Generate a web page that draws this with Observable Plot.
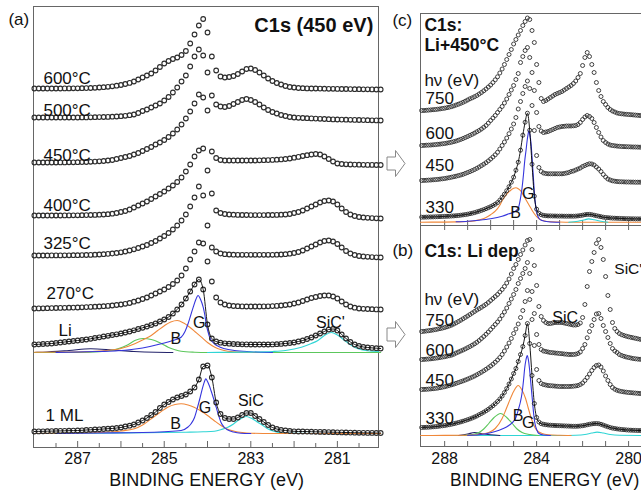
<!DOCTYPE html>
<html><head><meta charset="utf-8">
<script src="https://cdn.jsdelivr.net/npm/d3@7"></script>
<script src="https://cdn.jsdelivr.net/npm/@observablehq/plot@0.6"></script>
<style>
body{margin:0;background:#fff;}
#fig{position:relative;width:641px;height:490px;overflow:hidden;background:#fff;}
</style></head><body><div id="fig"></div>
<script>
// ---------------- DATA ----------------
// Panel (a): binding-energy grid (eV)
const energiesA = [288.0,287.9,287.8,287.7,287.6,287.5,287.4,287.3,287.2,287.1,
287.0,286.9,286.8,286.7,286.6,286.5,286.4,286.3,286.2,286.1,
286.0,285.9,285.8,285.7,285.6,285.5,285.4,285.3,285.2,285.1,
285.0,284.9,284.8,284.7,284.6,284.5,284.4,284.3,284.2,284.1,
284.0,283.9,283.8,283.7,283.6,283.5,283.4,283.3,283.2,283.1,
283.0,282.9,282.8,282.7,282.6,282.5,282.4,282.3,282.2,282.1,
282.0,281.9,281.8,281.7,281.6,281.5,281.4,281.3,281.2,281.1,
281.0,280.9,280.8,280.7,280.6,280.5,280.4,280.3,280.2,280.1,
280.0];
const labelsA = ["600°C","500°C","450°C","400°C","325°C","270°C","Li","1 ML"];
const offsetsA = [359,330,285,232,192,139,103,16];
const spec600 = [0,0,0,0,0,0,0,0.1,0.1,0.2, 0.2,0.3,0.4,0.5,0.7,1,1.3,1.7,2.2,2.8, 3.5,4.5,5.6,7,9,11,13,15,18,21.5,
 25,27.5,29.5,31,33.5,37.5,45,54,63,69.5, 56,32,18,12,11,11.5,12.5,14.5,17,19.5, 20,18.5,16,13,10,7.5,5.5,4,2.5,1.5,
 1,0.5,0.3,0.1,0,0,-0.1,-0.2,-0.3,-0.3, -0.4,-0.5,-0.5,-0.6,-0.7,-0.7,-0.8,-0.8,-0.9,-1, -1];
const spec500 = [0,0,0,0,0,0,0,0,0,0, 0,0.1,0.1,0.2,0.3,0.4,0.5,0.6,0.8,1, 1.3,1.7,2.3,3,4.5,6.5,8,10,12,14,
 17,20.5,25,30,36,42,51,61,68,62, 45,22,13,11,10.5,11.5,13.5,15.5,17.5,18.5, 17.5,15.5,13,10,7.5,5.5,4,2.5,1.5,0.5,
 0,-0.3,-0.5,-0.7,-0.9,-1.1,-1.3,-1.5,-1.7,-1.9, -2,-2.1,-2.2,-2.3,-2.4,-2.5,-2.6,-2.7,-2.8,-2.9, -3];
const spec450 = [0,0,0,0,0,0,0.1,0.1,0.2,0.2, 0.3,0.4,0.5,0.7,0.9,1.2,1.5,2,2.5,3.5, 4.5,5.5,6.5,8,9.5,11.5,13.5,15.5,18,20,
 22.5,25.5,29,33,38,44,51,59,68,65, 52,11,4.5,2.5,2,2,2,2,2,2, 2,2,2.2,2.3,2.4,2.6,2.8,3.1,3.5,4,
 4.8,5.6,6.5,7.3,8,8.5,8,6,3.5,1, -1,-1.5,-1.8,-2,-2.1,-2.2,-2.3,-2.4,-2.4,-2.5, -2.5];
const spec400 = [0,0,0,0,0,0,0,0.1,0.1,0.2, 0.2,0.3,0.4,0.5,0.6,0.8,1,1.3,1.8,2.5, 3.5,4.5,6,8,10,12,14,16.5,19,21.5,
 24,27,30,33.5,38,44,51,59,65,67, 45,22,5,2.5,1.5,1,0.8,0.6,0.5,0.5, 0.4,0.4,0.4,0.4,0.5,0.5,0.6,0.8,1,1.5,
 2.5,3.5,5,7,9,11,13,14.5,15,14, 11,7,3.5,1,-0.5,-1.5,-2,-2.3,-2.6,-2.8, -3];
const spec325 = [0,0,0,0,0.1,0.1,0.1,0.2,0.2,0.3, 0.3,0.4,0.5,0.6,0.8,1,1.3,1.6,2,2.5, 3.2,4,5,6.2,7.5,9,10.5,12.5,14.5,17,
 19.5,22.5,26,30,35,41,49,58,69,60, 30,8,4,2,1.3,1,0.8,0.7,0.7,0.7, 0.7,0.7,0.7,0.7,0.7,0.7,0.8,1,1.3,1.8,
 2.5,3.5,5,7,9,11,13,14.5,15,14, 11.5,8,4.5,2,0.5,-0.5,-1,-1.3,-1.6,-1.8, -2];
const spec270 = [0,0.1,0.2,0.3,0.4,0.5,0.6,0.7,0.8,0.9, 1,1.2,1.4,1.6,1.8,2,2.3,2.6,3,3.5, 4,4.7,5.5,6.8,8,9.5,11,13,15,17,
 19,21.5,24.5,28,33,40,49,57,66,65, 47,27,11,6,4,3,2.5,2.3,2.1,2, 2,2,2,2.1,2.2,2.4,2.6,3,3.5,4,
 5,6,7.5,9,10.5,11.5,12.5,13,13,12, 10,7,4,2,0.8,0,-0.3,-0.5,-0.7,-0.9, -1];
const specLi = [0,0.2,0.5,0.7,1,1.5,2,2.5,3,3.5, 4,4.5,5,5.7,6.5,7.2,8,8.7,9.5,10.2, 11,12,13,14.2,15.5,16.7,18,19.5,21,23,
 25,27.5,31,35,40,46,53,60,65,55, 20,6,3,1.8,1.2,0.8,0.5,0.3,0.2,0.1, 0,0,0,0,0,0.1,0.3,0.6,1,1.5,
 2,3,4,5.5,7,9,11,13,15,15.5, 14,10,6,2.5,0,-1.5,-2.5,-3,-3.4,-3.7, -4];
const spec1ML = [0,0.1,0.2,0.3,0.4,0.5,0.6,0.7,0.8,0.9, 1,1.2,1.5,1.7,2,2.2,2.5,2.8,3,3.5, 4,5,5.8,7,9,11,13.5,16.5,19.5,23.5,
 27,29.5,32,34,35.5,37,40,44,52,65, 66,54,29,17.5,13.5,12.5,12.5,14,16.5,18.5, 18.5,15.5,12.5,9.5,6.5,4,2.5,1.5,1,0.5,
 0.2,0,0,-0.1,-0.2,-0.3,-0.4,-0.5,-0.6,-0.7, -0.8,-0.9,-1,-1.1,-1.2,-1.3,-1.3,-1.4,-1.4,-1.5, -1.5];
// fit components, [eV, intensity] (Li and 1 ML)
const compOffsetLi = 95, compOffset1ML = 14;
const compLiNavy = [[288,0],[287.8,0.3],[287.2,2],[286.7,3.7],[286.2,2.5],[285.7,1],[285.2,0.2],[284.8,0]];
const compLiGreen = [[288,0],[287.5,0],[287,0.1],[286.5,0.8],[286.07,3.7],[285.85,7.5],[285.68,12],[285.49,14],[285.3,13],[285.22,12],[285.05,8.5],[284.91,5.3],[284.75,2.8],[284.61,1.3],[284.3,0.3],[284,0],[282,0],[280,0]];
const compLiOrange = [[288,0.2],[287,0.5],[286.5,1.5],[286,4],[285.68,8.7],[285.5,12.5],[285.3,17],[285.15,22],[284.99,27],[284.85,30.5],[284.7,32],[284.55,29.5],[284.41,25.3],[284.28,20.5],[284.14,15.3],[284,10],[283.83,5.3],[283.7,3],[283.53,1.3],[283.2,0.3],[282.8,0]];
const compLiBlue = [[287.5,0],[287,0.5],[286.5,1],[286.07,1.7],[285.5,4.5],[285.07,8.7],[284.8,12],[284.61,15.3],[284.52,21],[284.45,28.7],[284.39,37],[284.33,45.3],[284.27,53],[284.22,57],[284.16,53],[284.1,45.3],[284.06,37],[284.03,28.7],[283.99,21],[283.95,15.3],[283.84,8.7],[283.72,5.5],[283.6,3.7],[283.38,2],[283,0.8],[282.5,0]];
const compLiCyan = [[284,0],[283.5,0.2],[283,0.4],[282.5,1],[282.2,2],[281.83,5.3],[281.6,9],[281.45,12],[281.3,17],[281.14,20],[281.0,17.5],[280.83,12],[280.67,7],[280.52,3.7],[280.3,1.8],[280.05,1]];
const comp1MLOrange = [[288,0],[287.5,0.2],[287,0.5],[286.5,1],[286,2.5],[285.69,4.7],[285.5,8.5],[285.3,14.7],[285.1,21],[284.92,26.3],[284.75,29],[284.61,29.7],[284.45,28.5],[284.31,26.3],[284.15,22.5],[284.0,18],[283.85,13],[283.69,8],[283.55,4.5],[283.38,2.3],[283.2,1],[283,0.3],[282.5,0],[280,0]];
const comp1MLBlue = [[287.5,0],[286.5,0.5],[285.5,1],[285,1.8],[284.61,3],[284.45,6.5],[284.38,9.7],[284.3,16],[284.23,26.3],[284.17,36],[284.11,46.3],[284.07,52],[284.04,54.7],[284.0,52],[283.96,48],[283.92,43],[283.86,35],[283.8,26.3],[283.74,17.5],[283.69,11.3],[283.62,6.5],[283.54,3.7],[283.4,1.5],[283.23,0.3],[283,0]];
const comp1MLCyan = [[288,0],[287,0.3],[286,0.6],[285,1],[284.5,1.3],[284.1,1.7],[283.84,2.3],[283.68,4],[283.53,6.3],[283.4,9.5],[283.3,13],[283.2,15.5],[283.11,17],[283.0,15.5],[282.92,13.5],[282.84,11.3],[282.72,8],[282.61,4.7],[282.45,2],[282.3,0.7],[282,0.2],[281.5,0],[280,0]];
const tickMarksA = [287.5,287,286.5,286,285.5,285,284.5,284,283.5,283,282.5,282,281.5,281,280.5];
const tickLabelsA = [287,285,283,281];

// Panels (b) and (c): binding-energy grid (eV)
const energiesBC = [289.0,288.9,288.8,288.7,288.6,288.5,288.4,288.3,288.2,288.1,
288.0,287.9,287.8,287.7,287.6,287.5,287.4,287.3,287.2,287.1,
287.0,286.9,286.8,286.7,286.6,286.5,286.4,286.3,286.2,286.1,
286.0,285.9,285.8,285.7,285.6,285.5,285.4,285.3,285.2,285.1,
285.0,284.9,284.8,284.7,284.6,284.5,284.4,284.3,284.2,284.1,
284.0,283.9,283.8,283.7,283.6,283.5,283.4,283.3,283.2,283.1,
283.0,282.9,282.8,282.7,282.6,282.5,282.4,282.3,282.2,282.1,
282.0,281.9,281.8,281.7,281.6,281.5,281.4,281.3,281.2,281.1,
281.0,280.9,280.8,280.7,280.6,280.5,280.4,280.3,280.2,280.1,
280.0,279.9,279.8,279.7,279.6,279.5,279.4];
const photonEnergies = ["750","600","450","330"];
const offsetsC = [115,80,45,8.3];
const specC750 = [0,0,0.2,0.4,0.6,0.8,1,1.3,1.6,2, 2.3,2.8,3.3,3.9,4.6,5.5,6.3,7.2,8.2,9.3, 10.5,11.7,12.7,13.8,15,16.5,18,19.7,21.5,23.5,
 25.5,28,30.7,33.7,37.5,41.5,46,51,56,61, 66.5,71,75.5,80,85,89,92.5,91,80,68, 46,28,12,9,10,11.5,13,14.5,16,17,
 18,19,20.5,22,23.5,25,27,29.5,33,37, 45,53,58,54,46,38,28,20,14,9, 6,3,1,-0.5,-1.5,-2.5,-3,-3.3,-3.6,-3.8, -4,-4.2,-4.4,-4.6,-4.8,-5,-5];
const specC600 = [0,0.1,0.3,0.4,0.5,0.7,0.9,1.2,1.4,1.7, 2,2.4,2.8,3.3,3.9,4.5,5.3,6.1,7,8, 9,10.1,11.2,12.4,13.7,15,16.5,18.2,20,22.4,
 25,27.5,30,33,36,39,42.5,46.5,51,55.5, 60,66,72,83,89,95,98,88,73,55, 33,19,14.5,13,13.5,14,15,16,17,18,
 18.5,19,19.2,19.5,19.5,19.5,19.7,20,21,23, 26,28.5,30,29,27,23,18,13,8.5,5, 3,1.5,0.5,0,-0.3,-0.6,-0.8,-1,-1.1,-1.2, -1.3,-1.4,-1.5,-1.5,-1.6,-1.7,-1.7];
const specC450 = [0,0.1,0.2,0.4,0.5,0.7,0.9,1.1,1.4,1.7, 2,2.4,2.8,3.3,3.8,4.3,4.9,5.5,6.2,7.1, 8,8.9,9.9,11,12.2,13.5,14.9,16.3,17.8,19.6,
 21.5,23.5,25.7,28.2,31.5,35,38.5,42.5,46.8,51.5, 56.5,63,71.5,79,87,94,99.5,92,75,50, 25,13,9,7.5,7,6.7,6.7,6.7,6.7,6.7,
 6.7,6.7,7,7.5,8,9,9.5,10.5,11.5,12.5, 14,15,16,16.7,16.5,15.5,13.5,11.5,9,6, 3.5,1.5,0.5,-0.3,-0.7,-1,-1.2,-1.3,-1.4,-1.5, -1.5,-1.6,-1.6,-1.7,-1.7,-1.7,-1.7];
const specC330 = [0,0,0.1,0.2,0.25,0.3,0.4,0.5,0.6,0.7, 0.8,0.9,1,1.2,1.3,1.5,1.7,2,2.3,2.6, 3,3.5,4,4.6,5.3,6,6.8,7.6,8.5,9.5,
 10.5,11.7,13,14.6,17,20,23,26.5,30.5,35, 40,47,55,67,82,95,104,87,53,21, 8,4,2.5,1.8,1.5,1.3,1.3,1.2,1.2,1.1,
 1.1,1.1,1,1,1,1,1,1.1,1.3,1.6, 2,2.5,2.8,2.8,2.5,2,1.5,1,0.5,0, -0.3,-0.5,-0.7,-0.9,-1,-1.1,-1.2,-1.3,-1.4,-1.5, -1.5,-1.6,-1.6,-1.7,-1.7,-1.7,-1.7];
const compOffsetC = 3.3;
const compC330Orange = [[289.05,0],[288,0.1],[287.5,0.3],[287,0.7],[286.8,1],[286.6,1.8],[286.4,3],[286.2,4.8],[286,7.5],[285.8,11],[285.6,17],[285.5,21.5],[285.4,25],[285.3,28],[285.2,30.5],[285.1,32.5],[285,34],[284.9,34.4],[284.8,33.5],[284.7,31.5],[284.6,28],[284.5,24],[284.4,20],[284.3,16],[284.2,12],[284.1,8.5],[284,5.5],[283.9,3.5],[283.8,2.3],[283.7,1.5],[283.6,1],[283.5,0.7],[283,0.2],[282.5,0],[279,0]];
const compC330Blue = [[287.5,0.5],[287,1],[286.5,2],[286,3.5],[285.5,6],[285.2,8.4],[285,10],[284.8,14],[284.7,24],[284.63,35],[284.57,48],[284.515,61.7],[284.46,72],[284.41,82],[284.37,88],[284.34,91.7],[284.3,88],[284.24,78],[284.17,55],[284.09,28],[284.03,14],[283.98,8.4],[283.9,4],[283.76,1.7],[283.5,0.5],[283,0]];
const compC330Cyan = [[282.6,0],[282.2,1],[281.9,2.5],[281.74,3.3],[281.5,2.5],[281.2,1],[280.9,0]];

const offsetsB = [115,87,57,19];
const specB750 = [0,0.2,0.5,0.8,1.1,1.5,1.9,2.4,2.9,3.4, 4,4.7,5.5,6.4,7.5,8.7,10,11.3,12.7,14.1, 15.5,17,18.5,20,21.5,22.8,24.2,25.7,27.2,29,
 31,33,35,37,39.5,42,45,48.5,52.5,57.5, 63,67,72,77,81.5,86.5,91,92,82,66, 46,25,15,11,9,8,8,8.5,9,9,
 9,9,8.5,8,7.5,7,6.5,6.5,7,8.5, 14,27,45,60,70,79,88,92,84,72, 55,36,22,9,3,0,-2,-3.2,-4,-4.7, -5.3,-5.8,-6.3,-6.8,-7.3,-7.8,-8.2];
const specB600 = [0,0.1,0.3,0.5,0.7,1,1.3,1.6,2,2.4, 2.8,3.3,3.8,4.4,5.3,6.5,7.5,8.5,9.5,10.6, 11.8,13,14.3,15.7,17.2,19,21,23,25.2,27.5,
 30,32.5,35,37.5,40.5,44,47.5,51.5,56,60.5, 65,70,76,81,86,91,97,86,68,46, 25,15,10,8.5,8,7.5,7,6.8,6.5,6.3,
 6,5.8,5.5,5.3,5,5,5,5.3,6,7.5, 11,15,21.7,28,34,40,45.5,46,41,34, 28,22,16,11,8.5,7,5,4,3.2,2.5, 2,1.5,1,0.7,0.4,0.2,0];
const specB450 = [0,0.1,0.2,0.4,0.6,0.8,1.1,1.4,1.8,2.3, 2.8,3.4,4,4.7,5.4,6.2,7,7.8,8.6,9.5, 10.4,11.4,12.4,13.5,14.7,16,17.3,18.7,20.2,21.8,
 23.5,25.3,27.3,29.5,32,35,38.5,42.5,46.5,51, 56,60.5,65.5,72,79,88,99,90,70,44, 20,9,6,5,4.5,4,3.8,3.6,3.4,3.2,
 3,3,3,3,3,3.1,3.3,3.6,4,5, 6.5,9,12,15.5,19,22,24,24.5,22.5,18.5, 13.5,9,5,2,0.3,-0.8,-1.5,-2,-2.4,-2.7, -3,-3.2,-3.4,-3.6,-3.8,-4,-4];
const specB330 = [0,0.1,0.2,0.3,0.5,0.7,0.9,1.1,1.4,1.7, 2,2.4,2.8,3.3,3.8,4.4,5,5.6,6.3,7, 7.8,8.6,9.5,10.5,11.5,12.8,14,15.3,16.7,18.2,
 20,21.8,23.8,26,28.5,31.5,35,39,43.5,48.5, 54,59,66,73,81,92,104,84,52,24, 10,5.5,3.8,3.2,2.8,2.5,2.3,2.1,2,1.9,
 1.8,1.7,1.6,1.5,1.4,1.3,1.2,1.2,1.3,1.5, 1.8,2.2,2.7,3.2,3.6,3.9,4,3.8,3.2,2.4, 1.5,0.7,0,-0.6,-1,-1.4,-1.7,-2,-2.2,-2.4, -2.6,-2.7,-2.8,-2.9,-3,-3,-3];
const compOffsetB = 11;
const compB330Navy = [[287.4,0],[287,1.5],[286.7,3],[286.4,2],[286.0,0.7],[285.6,0]];
const compB330Green = [[287.2,0],[286.8,1],[286.51,3],[286.3,6.5],[286.08,12],[285.85,18],[285.57,22],[285.3,18],[285.06,12],[284.85,6.5],[284.63,3],[284.3,1],[283.9,0]];
const compB330Orange = [[289.05,0],[288,0.1],[287,0.3],[286.5,1],[286.08,3],[285.8,7],[285.5,17],[285.35,25],[285.21,33],[285.0,44],[284.8,50],[284.65,46],[284.48,37],[284.37,28],[284.27,20],[284.15,12],[284.05,7],[283.9,3.5],[283.76,2],[283.5,0.8],[283,0.2],[282.5,0]];
const compB330Blue = [[287,0.3],[286.5,0.8],[286.2,1.7],[285.8,4],[285.5,6.5],[285.21,10],[284.92,17],[284.78,27],[284.7,34],[284.63,43],[284.57,55],[284.52,67],[284.46,76],[284.41,80],[284.36,76],[284.31,67],[284.25,52],[284.19,37],[284.13,22],[284.08,13],[284.0,6],[283.9,2],[283.7,0.5],[283.4,0]];
const compB330Cyan = [[289.05,0],[283,0],[282.3,0.3],[281.9,1],[281.6,2.5],[281.37,3.4],[281.1,2.5],[280.8,1],[280.4,0.2],[279,0]];
const tickMarksBC = [288,287,286,285,284,283,282,281,280];
const tickLabelsB = [288,284,280];

// ---------------- RENDER ----------------
const FONT = "'Liberation Sans', Arial, Helvetica, sans-serif";
const svgStyle = `background:transparent;max-width:none;overflow:visible;font-family:${FONT};`;
const C = {orange:"#f0883a", blue:"#3535dd", green:"#5cc75c", cyan:"#30d5d5", navy:"#22226a", dot:"#2e2e2e", frame:"#666", text:"#111"};
const fig = document.getElementById("fig");
function place(el, left, top){ el.style.position="absolute"; el.style.left=left+"px"; el.style.top=top+"px"; fig.appendChild(el); }
const rows = (energies, vals, off) => vals.map((h,i)=>({E:energies[i], v:off+h}));
const pairRows = (pairs, off) => pairs.map(([E,h])=>({E, v:off+h}));
const compLine = (pairs, off, color) => Plot.line(pairRows(pairs, off), {x:"E", y:"v", stroke:color, strokeWidth:1.1, curve:"monotone-x"});
const texts = (data, o) => Plot.text(data, {x:"E", y:"v", text:"t", lineAnchor:"bottom", fill:C.text, ...o});

// Panel (a)
const specA = [spec600,spec500,spec450,spec400,spec325,spec270,specLi,spec1ML];
const dotsA = specA.flatMap((vals,k)=>rows(energiesA, vals, offsetsA[k]));
const plotA = Plot.plot({
  width:384, height:490, marginLeft:33, marginRight:6, marginTop:6, marginBottom:43,
  style: svgStyle,
  x:{domain:[288.02,280.05]}, y:{domain:[0,441], axis:null},
  marks:[
    Plot.frame({stroke:C.frame}),
    Plot.ruleX(tickMarksA, {y1:0, y2:d=> d%1===0 ? 6 : 4, stroke:C.frame}),
    Plot.axisX({ticks:tickLabelsA, tickSize:0, tickPadding:5, fontSize:16, fill:C.text, label:null}),
    compLine(compLiNavy, compOffsetLi, C.navy),
    compLine(compLiGreen, compOffsetLi, C.green),
    compLine(compLiOrange, compOffsetLi, C.orange),
    compLine(compLiBlue, compOffsetLi, C.blue),
    compLine(compLiCyan, compOffsetLi, C.cyan),
    compLine(comp1MLCyan, compOffset1ML, C.cyan),
    compLine(comp1MLOrange, compOffset1ML, C.orange),
    compLine(comp1MLBlue, compOffset1ML, C.blue),
    Plot.dot(dotsA, {x:"E", y:"v", r:2.35, stroke:C.dot, strokeWidth:1.1, fill:"none"}),
    Plot.line(rows(energiesA, specLi, offsetsA[6]), {x:"E", y:"v", stroke:"#000", strokeWidth:0.9, curve:"monotone-x"}),
    Plot.line(rows(energiesA, spec1ML, offsetsA[7]), {x:"E", y:"v", stroke:"#000", strokeWidth:0.9, curve:"monotone-x"}),
    texts([
      {t:labelsA[0],E:287.79,v:364},{t:labelsA[1],E:287.79,v:332},{t:labelsA[2],E:287.79,v:287},
      {t:labelsA[3],E:287.79,v:237},{t:labelsA[4],E:287.79,v:199},{t:labelsA[5],E:287.72,v:149},
      {t:labelsA[6],E:287.44,v:112},{t:labelsA[7],E:287.74,v:27},{t:"(a)",E:288.60,v:423}
    ], {textAnchor:"start", fontSize:17}),
    texts([
      {t:"B",E:284.73,v:104},{t:"G",E:284.19,v:120},{t:"SiC'",E:281.16,v:120},
      {t:"B",E:284.74,v:19},{t:"G",E:284.06,v:35},{t:"SiC",E:283.0,v:42}
    ], {textAnchor:"middle", fontSize:16}),
    texts([{t:"C1s (450 eV)",E:280.17,v:416}], {textAnchor:"end", fontSize:20, fontWeight:"bold"}),
    texts([{t:"BINDING ENERGY (eV)",E:284.02,v:-38}], {textAnchor:"middle", fontSize:18})
  ]
});
place(plotA, 0, 0);

// Panel (c)
const specC = [specC750,specC600,specC450,specC330];
const dotsC = specC.flatMap((vals,k)=>rows(energiesBC, vals, offsetsC[k]));
const plotC = Plot.plot({
  width:272, height:226, marginLeft:40, marginRight:0, marginTop:13, marginBottom:1,
  style: svgStyle,
  x:{domain:[289.05,278.96], axis:null}, y:{domain:[0,212], axis:null},
  marks:[
    Plot.frame({stroke:C.frame}),
    Plot.ruleX(tickMarksBC, {y1:0, y2:5, stroke:C.frame}),
    compLine(compC330Orange, compOffsetC, C.orange),
    compLine(compC330Cyan, compOffsetC, C.cyan),
    compLine(compC330Blue, compOffsetC, C.blue),
    Plot.dot(dotsC, {x:"E", y:"v", r:2, stroke:C.dot, strokeWidth:0.9, fill:"none"}),
    Plot.line(rows(energiesBC, specC330, offsetsC[3]), {x:"E", y:"v", stroke:"#000", strokeWidth:0.9, curve:"monotone-x"}),
    texts([
      {t:"(c)",E:290.27,v:200},{t:"hν (eV)",E:288.88,v:140},
      {t:photonEnergies[0],E:288.83,v:122},{t:photonEnergies[1],E:288.83,v:87},
      {t:photonEnergies[2],E:288.83,v:55},{t:photonEnergies[3],E:288.83,v:13}
    ], {textAnchor:"start", fontSize:17}),
    texts([{t:"C1s:",E:288.88,v:195},{t:"Li+450°C",E:288.88,v:175}], {textAnchor:"start", fontSize:17.5, fontWeight:"bold"}),
    texts([{t:"B",E:284.92,v:8},{t:"G",E:284.37,v:27}], {textAnchor:"middle", fontSize:16})
  ]
});
place(plotC, 380, 0);

// Panel (b)
const specB = [specB750,specB600,specB450,specB330];
const dotsB = specB.flatMap((vals,k)=>rows(energiesBC, vals, offsetsB[k]));
const plotB = Plot.plot({
  width:272, height:490, marginLeft:40, marginRight:0, marginTop:225, marginBottom:44,
  style: svgStyle,
  x:{domain:[289.05,278.96]}, y:{domain:[0,221], axis:null},
  marks:[
    Plot.frame({stroke:C.frame}),
    Plot.ruleX(tickMarksBC, {y1:0, y2:5, stroke:C.frame}),
    Plot.ruleX(tickMarksBC, {y1:221, y2:216, stroke:C.frame}),
    Plot.axisX({ticks:tickLabelsB, tickSize:0, tickPadding:6, fontSize:16, fill:C.text, label:null}),
    compLine(compB330Cyan, compOffsetB, C.cyan),
    compLine(compB330Navy, compOffsetB, C.navy),
    compLine(compB330Green, compOffsetB, C.green),
    compLine(compB330Orange, compOffsetB, C.orange),
    compLine(compB330Blue, compOffsetB, C.blue),
    Plot.dot(dotsB, {x:"E", y:"v", r:2, stroke:C.dot, strokeWidth:0.9, fill:"none"}),
    Plot.line(rows(energiesBC, specB330, offsetsB[3]), {x:"E", y:"v", stroke:"#000", strokeWidth:0.9, curve:"monotone-x"}),
    texts([
      {t:"(b)",E:290.27,v:191},{t:"hν (eV)",E:288.88,v:142},
      {t:photonEnergies[0],E:288.83,v:121},{t:photonEnergies[1],E:288.83,v:91},
      {t:photonEnergies[2],E:288.83,v:61},{t:photonEnergies[3],E:288.83,v:23}
    ], {textAnchor:"start", fontSize:17}),
    texts([{t:"C1s: Li dep",E:288.88,v:190}], {textAnchor:"start", fontSize:17.5, fontWeight:"bold"}),
    texts([{t:"SiC",E:282.76,v:124},{t:"B",E:284.81,v:26},{t:"G",E:284.37,v:19}], {textAnchor:"middle", fontSize:16}),
    texts([{t:"SiC'",E:280.62,v:173}], {textAnchor:"start", fontSize:15.5}),
    texts([{t:"BINDING ENERGY (eV)",E:283.65,v:-39}], {textAnchor:"middle", fontSize:17.5})
  ]
});
place(plotB, 380, 0);

// outline arrows between panels
const ns = "http://www.w3.org/2000/svg";
const arr = document.createElementNS(ns, "svg");
arr.setAttribute("width", 641); arr.setAttribute("height", 490);
arr.style.position="absolute"; arr.style.left="0px"; arr.style.top="0px";
for (const cy of [163.5, 334.5]) {
  const p = document.createElementNS(ns, "polygon");
  p.setAttribute("points", `387,${cy-6.5} 395.5,${cy-6.5} 395.5,${cy-13} 405,${cy} 395.5,${cy+13} 395.5,${cy+6.5} 387,${cy+6.5}`);
  p.setAttribute("fill", "#fff"); p.setAttribute("stroke", "#888"); p.setAttribute("stroke-width", "1");
  arr.appendChild(p);
}
fig.appendChild(arr);
</script>
</body></html>
